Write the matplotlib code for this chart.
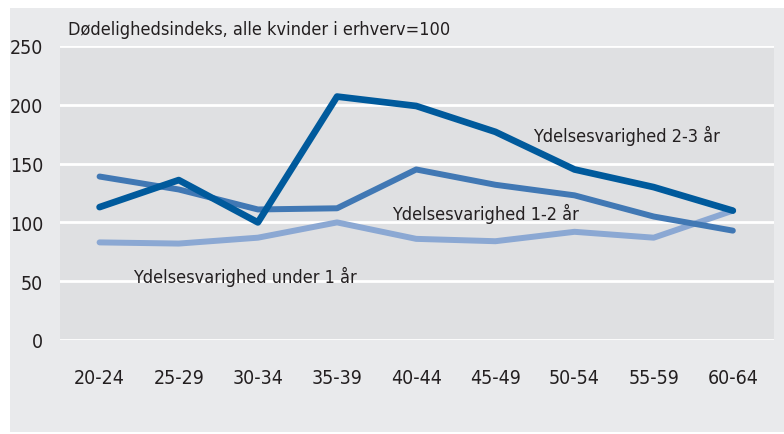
import matplotlib
matplotlib.use("Agg")
import matplotlib.pyplot as plt

# age groups and mortality index (all employed women = 100)
age_groups = ['20-24', '25-29', '30-34', '35-39', '40-44', '45-49', '50-54', '55-59', '60-64']
under_1 = [83, 82, 87, 100, 86, 84, 92, 87, 110]
one_two = [139, 128, 111, 112, 145, 132, 123, 105, 93]
two_three = [113, 136, 100, 207, 199, 177, 145, 130, 110]
y_ticks = [0, 50, 100, 150, 200, 250]

plt.rcParams['font.family'] = ['DejaVu Sans']
plt.rcParams['font.stretch'] = 'condensed'

fig = plt.figure(figsize=(7.84, 4.35), dpi=100)
fig.patch.set_facecolor('white')
# outer light panel
bg = fig.add_axes([10 / 784, 2 / 435, 774 / 784, 424 / 435], zorder=-1)
bg.set_facecolor('#e9eaec')
bg.set_xticks([])
bg.set_yticks([])
for s in bg.spines.values():
    s.set_visible(False)

ax = fig.add_axes([60 / 784, 1 - 341 / 435, 714 / 784, 294 / 435])
ax.set_facecolor('#dfe0e2')
x = list(range(len(age_groups)))

for y in y_ticks:
    ax.axhline(y, color='white', lw=2, zorder=1)

ax.plot(x, under_1, color='#8ba8d3', lw=4.3, solid_capstyle='round', zorder=2)
ax.plot(x, one_two, color='#4178b4', lw=4.3, solid_capstyle='round', zorder=3)
ax.plot(x, two_three, color='#005a9c', lw=4.8, solid_capstyle='round', zorder=4)

ax.set_xlim(-0.5, 8.52)
ax.set_ylim(0, 250)
ax.set_xticks(x)
ax.set_xticklabels(age_groups)
ax.set_yticks(y_ticks)
ax.tick_params(axis='x', length=0, pad=20, labelsize=14, colors='#231f20')
ax.tick_params(axis='y', length=0, pad=12, labelsize=14, colors='#231f20')
for s in ax.spines.values():
    s.set_visible(False)

txt = dict(fontsize=13, color='#231f20', va='baseline', ha='left')
ax.text(5.47, 169, 'Ydelsesvarighed 2-3 år', **txt)
ax.text(3.70, 102.5, 'Ydelsesvarighed 1-2 år', **txt)
ax.text(0.42, 49, 'Ydelsesvarighed under 1 år', **txt)

fig.text(68 / 784, 1 - 35 / 435, 'Dødelighedsindeks, alle kvinder i erhverv=100',
         fontsize=13, color='#231f20', va='baseline', ha='left')

fig.savefig('out.png', dpi=100)
